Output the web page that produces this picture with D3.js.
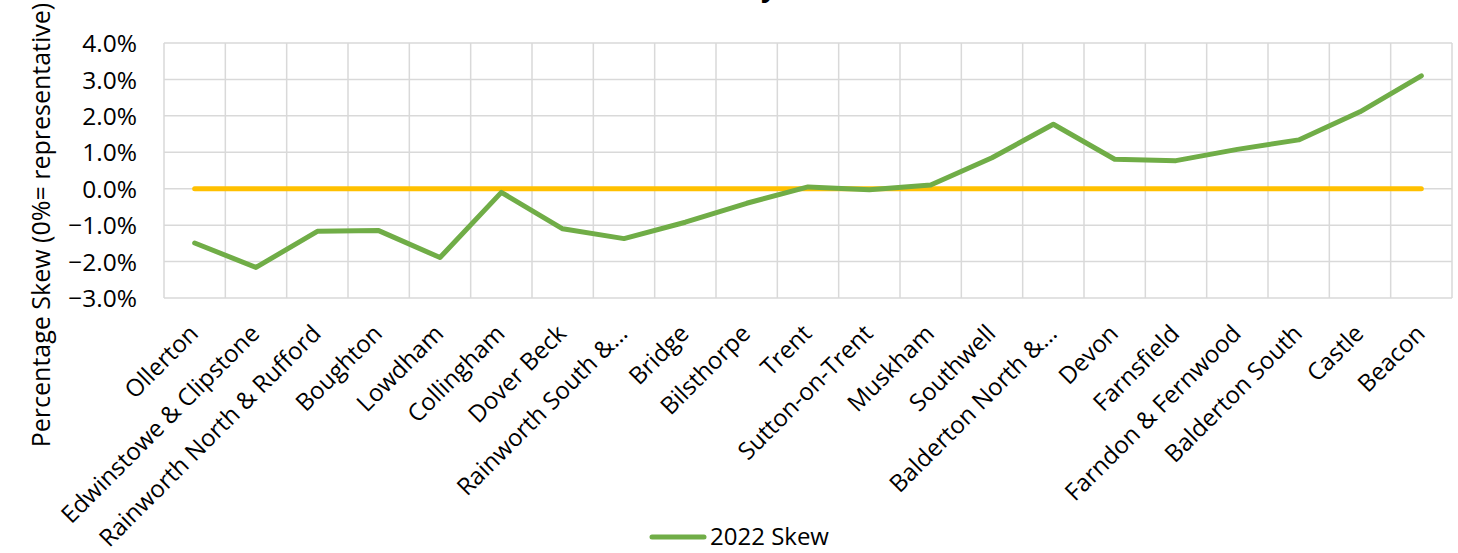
<!DOCTYPE html>
<html>
<head>
<meta charset="utf-8">
<script src="https://cdn.jsdelivr.net/npm/d3@7"></script>
<style>
  html, body { margin: 0; padding: 0; background: #fff; }
  svg { display: block; font-family: "Open Sans", "Liberation Sans", sans-serif; }
</style>
</head>
<body>
<svg id="chart" width="1458" height="553"></svg>
<script>
// Wards ordered from most under- to most over-represented
const wards = [
  "Ollerton", "Edwinstowe & Clipstone", "Rainworth North & Rufford", "Boughton",
  "Lowdham", "Collingham", "Dover Beck", "Rainworth South &\u2026", "Bridge",
  "Bilsthorpe", "Trent", "Sutton-on-Trent", "Muskham", "Southwell",
  "Balderton North &\u2026", "Devon", "Farnsfield", "Farndon & Fernwood",
  "Balderton South", "Castle", "Beacon"
];
// 2022 skew per ward, as a fraction
const skew2022 = [
  -0.0149, -0.0216, -0.0117, -0.0115, -0.0189, -0.0010, -0.0110, -0.0137, -0.0092,
  -0.0040, 0.0005, -0.0003, 0.0010, 0.0085, 0.0177, 0.0081, 0.0077, 0.0108,
  0.0134, 0.0211, 0.0310
];
// Representative reference (0%) for every ward
const reference = wards.map(() => 0);
const yTicks = [-0.03, -0.02, -0.01, 0, 0.01, 0.02, 0.03, 0.04];
const seriesName = "2022 Skew";
const yTitle = "Percentage Skew (0%= representative)";
const chartTitle = "Ward Skew Summary";

const svg = d3.select("#chart");
const plot = { left: 164, right: 1452, top: 43, bottom: 298 };

const x = d3.scaleBand().domain(wards).range([plot.left, plot.right]).padding(0);
const y = d3.scaleLinear().domain([-0.03, 0.04]).range([plot.bottom, plot.top]);
const cx = d => x(d) + x.bandwidth() / 2;

// Title (sits mostly above the visible area)
svg.append("text")
  .attr("x", 777).attr("y", -4)
  .attr("text-anchor", "end")
  .attr("font-weight", "bold")
  .attr("font-size", 28)
  .attr("fill", "#000")
  .text(chartTitle);

// Horizontal gridlines
svg.append("g")
  .selectAll("line")
  .data(yTicks)
  .join("line")
  .attr("x1", plot.left).attr("x2", plot.right)
  .attr("y1", d => y(d)).attr("y2", d => y(d))
  .attr("stroke", "#d9d9d9").attr("stroke-width", 1.5);

// Vertical gridlines at category boundaries
const bounds = wards.map(d => x(d)).concat([plot.right]);
svg.append("g")
  .selectAll("line")
  .data(bounds)
  .join("line")
  .attr("x1", d => d).attr("x2", d => d)
  .attr("y1", plot.top).attr("y2", plot.bottom)
  .attr("stroke", "#d9d9d9").attr("stroke-width", 1.5);

// Y axis labels
const yAxis = d3.axisLeft(y).tickValues(yTicks).tickFormat(d3.format(".1%")).tickSize(0).tickPadding(0);
const yg = svg.append("g").attr("transform", `translate(${137},0)`).call(yAxis);
yg.select(".domain").remove();
yg.selectAll("text")
  .attr("font-family", "\"Open Sans\", sans-serif")
  .attr("font-size", 24.5)
  .attr("fill", "#000")
  .attr("dy", "0.35em");

// Y axis title
svg.append("text")
  .attr("transform", `translate(50,225) rotate(-90)`)
  .attr("text-anchor", "middle")
  .attr("font-size", 25)
  .attr("fill", "#000")
  .text(yTitle);

// Category labels, rotated
svg.append("g")
  .selectAll("text")
  .data(wards)
  .join("text")
  .attr("transform", d => `translate(${cx(d) + 5},${335}) rotate(-45)`)
  .attr("text-anchor", "end")
  .attr("font-size", 24)
  .attr("fill", "#000")
  .text(d => d);

// Reference line at 0%
const line = d3.line().x((d, i) => cx(wards[i])).y(d => y(d));
svg.append("path")
  .datum(reference)
  .attr("d", line)
  .attr("fill", "none")
  .attr("stroke", "#FFC000")
  .attr("stroke-width", 5)
  .attr("stroke-linecap", "round")
  .attr("stroke-linejoin", "round");

// 2022 skew series
svg.append("path")
  .datum(skew2022)
  .attr("d", line)
  .attr("fill", "none")
  .attr("stroke", "#70AD47")
  .attr("stroke-width", 5)
  .attr("stroke-linecap", "round")
  .attr("stroke-linejoin", "round");

// Legend
const lg = svg.append("g").attr("transform", "translate(0,537)");
lg.append("line")
  .attr("x1", 652).attr("x2", 704).attr("y1", 0).attr("y2", 0)
  .attr("stroke", "#70AD47").attr("stroke-width", 5).attr("stroke-linecap", "round");
lg.append("text")
  .attr("x", 710).attr("y", 0).attr("dy", "0.35em")
  .attr("font-size", 24)
  .attr("fill", "#000")
  .text(seriesName);
</script>
</body>
</html>
